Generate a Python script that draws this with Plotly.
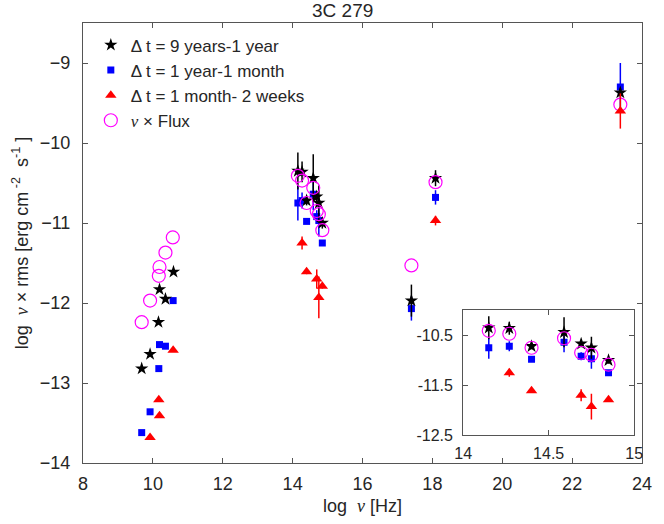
import plotly.graph_objects as go

# ---- data ----
star_x = [9.68, 9.92, 10.16, 10.19, 10.36, 10.59, 14.15, 14.27, 14.40, 14.59, 14.69, 14.75, 14.85, 17.40, 18.09, 23.38]
star_y = [-12.82, -12.64, -12.24, -11.83, -11.95, -11.61, -10.35, -10.36, -10.72, -10.44, -10.67, -10.75, -11.00, -11.97, -10.44, -9.37]
star_e = [0, 0, 0, 0, 0, 0, 0.23, 0.13, 0.06, 0.30, 0.07, 0.22, 0.07, 0.20, 0.10, 0.05]

sq_x = [9.68, 9.92, 10.17, 10.19, 10.36, 10.58, 14.15, 14.27, 14.40, 14.59, 14.69, 14.75, 14.85, 17.40, 18.09, 23.38]
sq_y = [-13.62, -13.36, -12.82, -12.52, -12.54, -11.97, -10.75, -10.72, -10.98, -10.64, -10.92, -10.97, -11.25, -12.07, -10.68, -9.30]
sq_e = [0, 0, 0, 0, 0, 0, 0.22, 0.10, 0.03, 0.20, 0.08, 0.20, 0.03, 0.15, 0.09, 0.30]

tri_x = [9.92, 10.17, 10.19, 10.58, 14.27, 14.40, 14.69, 14.75, 14.85, 18.09, 23.38]
tri_y = [-13.68, -13.21, -13.41, -12.59, -11.25, -11.61, -11.70, -11.93, -11.79, -10.97, -9.60]
tri_e = [0, 0, 0, 0, 0.08, 0.03, 0.12, 0.26, 0.03, 0.06, 0.22]

circ_x = [9.68, 9.92, 10.17, 10.19, 10.36, 10.57, 14.15, 14.27, 14.40, 14.59, 14.69, 14.75, 14.85, 17.40, 18.09, 23.38]
circ_y = [-12.24, -11.97, -11.66, -11.55, -11.37, -11.18, -10.41, -10.47, -10.75, -10.56, -10.85, -10.89, -11.09, -11.53, -10.49, -9.52]

names = ["Δ t = 9 years-1 year", "Δ t = 1 year-1 month", "Δ t = 1 month- 2 weeks",
         '<span style="font-family:Liberation Serif"><i>ν</i></span> × Flux']

FONT = "Liberation Sans, Arial, sans-serif"
AX = "#555555"

fig = go.Figure()

def add_all(xa, ya, legend):
    fig.add_trace(go.Scatter(x=sq_x, y=sq_y, mode="markers", name=names[1], legendrank=2,
                             showlegend=legend, xaxis=xa, yaxis=ya,
                             marker=dict(symbol="square", size=7, color="#0000ff"),
                             error_y=dict(type="data", array=sq_e, color="#0000ff", thickness=1.5, width=0)))
    fig.add_trace(go.Scatter(x=star_x, y=star_y, mode="markers", name=names[0], legendrank=1,
                             showlegend=legend, xaxis=xa, yaxis=ya,
                             marker=dict(symbol="star", size=10, color="black"),
                             error_y=dict(type="data", array=star_e, color="black", thickness=1.5, width=0)))
    fig.add_trace(go.Scatter(x=circ_x, y=circ_y, mode="markers", name=names[3], legendrank=4,
                             showlegend=legend, xaxis=xa, yaxis=ya,
                             marker=dict(symbol="circle-open", size=13, color="#ff00ff", line=dict(width=1.2))))
    fig.add_trace(go.Scatter(x=tri_x, y=tri_y, mode="markers", name=names[2], legendrank=3,
                             showlegend=legend, xaxis=xa, yaxis=ya,
                             marker=dict(symbol="triangle-up", size=10, color="#ff0000"),
                             error_y=dict(type="data", array=tri_e, color="#ff0000", thickness=1.5, width=0)))

add_all("x", "y", True)
add_all("x2", "y2", False)

axis_common = dict(showline=True, linecolor=AX, linewidth=1, mirror="allticks", ticks="inside",
                   ticklen=5, tickcolor=AX, showgrid=False, zeroline=False,
                   tickfont=dict(family=FONT, size=18, color="#262626"))

fig.update_layout(
    width=664, height=524,
    margin=dict(l=83, r=12, t=23, b=60),
    paper_bgcolor="white", plot_bgcolor="white",
    font=dict(family=FONT, size=18, color="#262626"),
    showlegend=True,
    legend=dict(x=0.014, y=0.99, xanchor="left", yanchor="top", bgcolor="rgba(255,255,255,0)",
                font=dict(family=FONT, size=17, color="#262626"), tracegroupgap=0),
    xaxis=dict(range=[8, 24], tickvals=[8, 10, 12, 14, 16, 18, 20, 22, 24], ticklabelstandoff=4,
               title=dict(text='log  <span style="font-family:Liberation Serif"><i>ν</i></span> [Hz]',
                          font=dict(family=FONT, size=18), standoff=6),
               **axis_common),
    yaxis=dict(range=[-14, -8.5], tickvals=[-14, -13, -12, -11, -10, -9], ticklabelstandoff=8,
               title=dict(text='log  <span style="font-family:Liberation Serif"><i>ν</i></span> × rms [erg cm<sup> -2</sup>  s<sup>-1</sup> ]',
                          font=dict(family=FONT, size=18), standoff=6),
               **axis_common),
    xaxis2=dict(domain=[0.680, 0.986], anchor="y2", range=[14, 15], tickvals=[14, 14.5, 15],
                ticktext=["14", "14.5", "15"], ticklabelstandoff=4,
                **{**axis_common, "tickfont": dict(family=FONT, size=16, color="#262626")}),
    yaxis2=dict(domain=[0.0635, 0.347], anchor="x2", range=[-12.5, -10], tickvals=[-12.5, -11.5, -10.5],
                ticktext=["-12.5", "-11.5", "-10.5"], ticklabelstandoff=6,
                **{**axis_common, "tickfont": dict(family=FONT, size=16, color="#262626")}),
    annotations=[dict(text="3C 279", xref="paper", yref="paper", x=0.464, y=1.0, xanchor="center",
                      yanchor="bottom", showarrow=False, font=dict(family=FONT, size=19, color="#262626"))],
)

fig.write_html("out.html")
